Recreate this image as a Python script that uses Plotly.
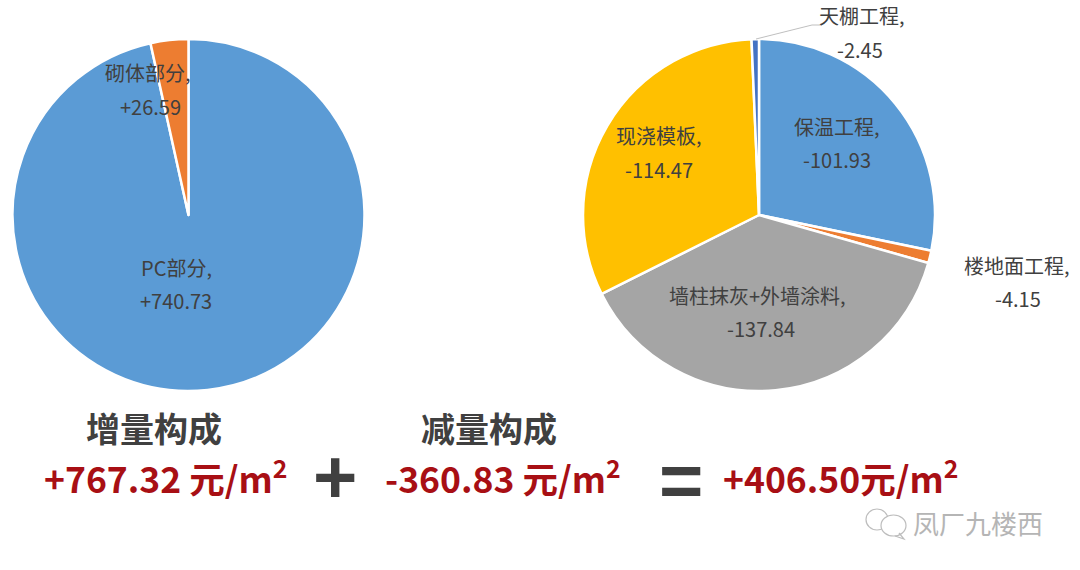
import plotly.graph_objects as go

W, H = 1080, 570
left_labels = ["PC部分", "砌体部分"]
left_values = [740.73, 26.59]
right_labels = ["保温工程", "楼地面工程", "墙柱抹灰+外墙涂料", "现浇模板", "天棚工程"]
right_values = [101.93, 4.15, 137.84, 114.47, 2.45]
left_colors = ["#5B9BD5", "#ED7D31"]
right_colors = ["#5B9BD5", "#ED7D31", "#A5A5A5", "#FFC000", "#4472C4"]
CJK = "Noto Sans CJK SC"


def dom(cx, cy, r):
    return dict(x=[(cx - r) / W, (cx + r) / W], y=[1 - (cy + r) / H, 1 - (cy - r) / H])


fig = go.Figure()
for labels, values, colors, d in [
    (left_labels, left_values, left_colors, dom(188.5, 215, 176)),
    (right_labels, right_values, right_colors, dom(759, 215, 176)),
]:
    fig.add_trace(go.Pie(labels=labels, values=values, sort=False, direction="clockwise", rotation=0,
                         marker=dict(colors=colors, line=dict(color="white", width=2.5)),
                         textinfo="none", hoverinfo="label+value", showlegend=False, domain=d))


def note(x, y, text, size, color="#404040", bold=False, family=CJK):
    if bold:
        text = f"<b>{text}</b>"
    fig.add_annotation(x=x / W, y=1 - y / H, xref="paper", yref="paper", text=text, showarrow=False,
                       xanchor="center", yanchor="middle", font=dict(size=size, color=color, family=family))


small = [
    (148, 73, "砌体部分,"), (150, 106, "+26.59"),
    (176, 267, "PC部分,"), (176, 300, "+740.73"),
    (862, 16, "天棚工程,"), (860, 49, "-2.45"),
    (837, 126, "保温工程,"), (837, 159, "-101.93"),
    (1017, 265, "楼地面工程,"), (1018, 298, "-4.15"),
    (659, 136, "现浇模板,"), (659, 169, "-114.47"),
    (757, 295, "墙柱抹灰+外墙涂料,"), (761, 328, "-137.84"),
]
for x, y, t in small:
    note(x, y, t, 20)

RED = "#A80F14"
note(154, 427, "增量构成", 34, "#404040", True)
note(489, 427, "减量构成", 34, "#404040", True)
note(165, 476, "+767.32 元/m<sup>2</sup>", 35.5, RED, True)
note(503, 476, "-360.83 元/m<sup>2</sup>", 35.5, RED, True)
note(840, 476, "+406.50元/m<sup>2</sup>", 35.5, RED, True)
note(335, 476, "+", 76, "#404040", True, "Liberation Sans")
note(681, 480, "=", 76, "#404040", True, "Liberation Sans")
note(978, 522, "凤厂九楼西", 26, "#B5B5B5")


def px(x, y):
    return f"{x / W} {1 - y / H}"


fig.add_shape(type="path", xref="paper", yref="paper",
              path=f"M {px(756, 39)} L {px(812, 25)} L {px(820, 25)}",
              line=dict(color="#BFBFBF", width=1))
icon = "#BDBDBD"
fig.add_shape(type="circle", xref="paper", yref="paper", x0=866 / W, x1=888 / W, y0=1 - 530 / H, y1=1 - 509 / H,
              line=dict(color=icon, width=1.2))
fig.add_shape(type="circle", xref="paper", yref="paper", x0=881 / W, x1=906 / W, y0=1 - 536 / H, y1=1 - 515 / H,
              line=dict(color=icon, width=1.2), fillcolor="white")
fig.add_shape(type="path", xref="paper", yref="paper",
              path=f"M {px(899, 533)} L {px(904, 539)} L {px(895, 536)}", line=dict(color=icon, width=1.2))

fig.update_layout(width=W, height=H, margin=dict(l=0, r=0, t=0, b=0), paper_bgcolor="white",
                  font=dict(family=CJK))
fig.write_html("out.html", config=dict(displayModeBar=False),
               post_script="document.body.style.margin='0';document.documentElement.style.overflow='hidden';")
